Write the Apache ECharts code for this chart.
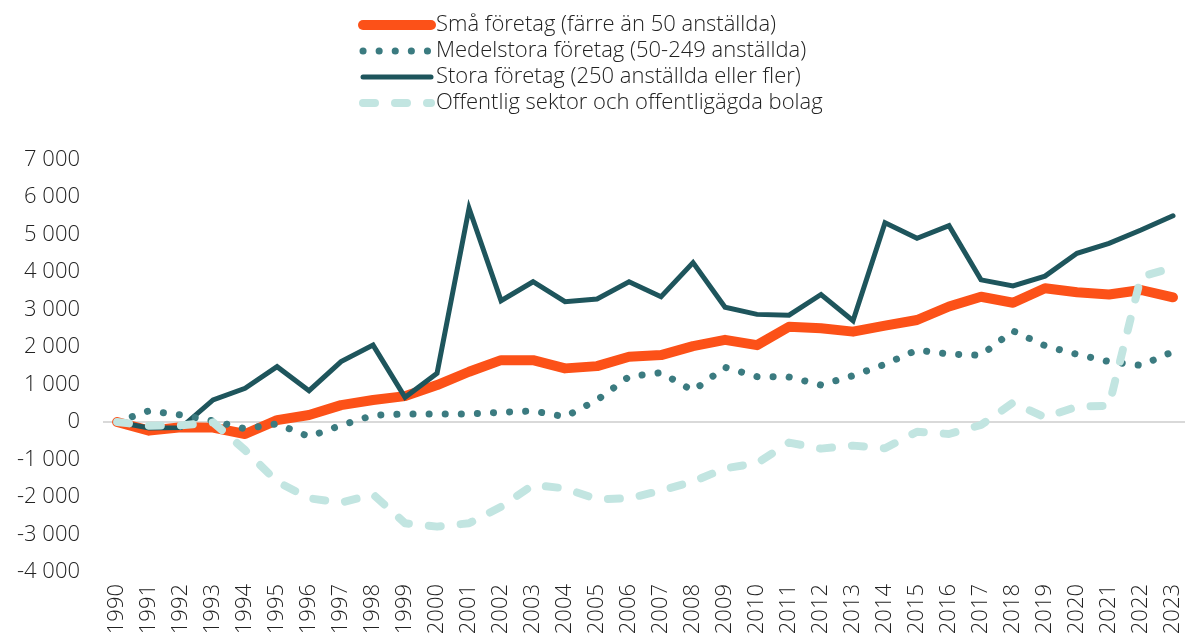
<!DOCTYPE html>
<html>
<head>
<meta charset="utf-8">
<script src="https://cdn.jsdelivr.net/npm/echarts@6/dist/echarts.min.js"></script>
<style>
html,body{margin:0;padding:0;background:#fff;}
#chart{width:1185px;height:639px;}
</style>
</head>
<body>
<div id="chart"></div>
<script>
const years = [1990,1991,1992,1993,1994,1995,1996,1997,1998,1999,2000,2001,2002,2003,2004,2005,2006,2007,2008,2009,2010,2011,2012,2013,2014,2015,2016,2017,2018,2019,2020,2021,2022,2023];
const smaForetag = [0,-230,-140,-150,-320,50,185,450,585,690,985,1340,1650,1650,1430,1490,1740,1785,2025,2190,2050,2540,2500,2410,2570,2720,3080,3340,3180,3565,3460,3400,3520,3325];
const medelstora = [0,300,185,30,-180,-50,-390,-90,180,215,215,215,260,295,140,585,1210,1315,835,1460,1210,1200,985,1235,1540,1920,1810,1780,2430,2035,1805,1610,1510,1875];
const stora = [0,-160,-150,590,900,1475,835,1610,2050,660,1300,5700,3235,3740,3210,3280,3740,3340,4250,3060,2870,2850,3400,2700,5315,4900,5235,3790,3630,3890,4500,4765,5120,5500];
const offentlig = [0,-100,-90,-10,-750,-1590,-2035,-2150,-1930,-2700,-2790,-2700,-2260,-1680,-1770,-2060,-2035,-1830,-1590,-1235,-1100,-550,-710,-630,-700,-260,-320,-80,515,125,410,435,3875,4115];
const seriesNames = ['Små företag (färre än 50 anställda)','Medelstora företag (50-249 anställda)','Stora företag (250 anställda eller fler)','Offentlig sektor och offentligägda bolag'];
const yTicks = {min:-4000, max:7000, interval:1000};

const pairs = vals => years.map((y,i)=>[y, vals[i]]);
const FONT = '"Open Sans", Lato, sans-serif';
const FW = 300;
const FS = 22;
const TXT = '#222222';
const C = {sma:'#FC5118', medel:'#3B7B80', stora:'#1E555C', off:'#C2E5E1'};
const noSym = {color:'rgba(0,0,0,0)', borderWidth:0, borderColor:'rgba(0,0,0,0)'};

const chart = echarts.init(document.getElementById('chart'), null, {renderer:'canvas'});
chart.setOption({
  animation:false,
  backgroundColor:'#ffffff',
  textStyle:{fontFamily:FONT, fontWeight:FW},
  legend:{
    orient:'vertical', left:353, top:9, itemWidth:68, itemHeight:20, itemGap:4,
    data:[
      {name:seriesNames[0], itemStyle:noSym, lineStyle:{width:10, type:'solid', cap:'round', color:C.sma}},
      {name:seriesNames[1], itemStyle:noSym, lineStyle:{width:7, type:[0.1,16], cap:'round', color:C.medel}},
      {name:seriesNames[2], itemStyle:noSym, lineStyle:{width:5, type:'solid', cap:'round', color:C.stora}},
      {name:seriesNames[3], itemStyle:noSym, lineStyle:{width:8, type:[12,20], cap:'round', color:C.off}}
    ],
    textStyle:{fontFamily:FONT, fontWeight:FW, fontSize:FS, color:TXT}
  },
  grid:{left:103, right:0, top:159.5, bottom:67, containLabel:false},
  xAxis:{
    type:'value', min:1989.56, max:2023.375,
    axisLine:{show:false}, splitLine:{show:false},
    axisTick:{show:false, customValues:years},
    axisLabel:{customValues:years, rotate:90, margin:12, fontSize:FS, color:TXT, fontFamily:FONT, fontWeight:FW,
      formatter:v=>String(v)}
  },
  yAxis:{
    type:'value', min:yTicks.min, max:yTicks.max, interval:yTicks.interval,
    axisLine:{show:false}, axisTick:{show:false}, splitLine:{show:false},
    axisLabel:{fontSize:FS, color:TXT, fontFamily:FONT, fontWeight:FW, margin:23,
      formatter:v=>{const s=Math.abs(v).toString().replace(/\B(?=(\d{3})+(?!\d))/g,' ');return (v<0?'-':'')+s;}}
  },
  series:[
    {name:seriesNames[0], type:'line', data:pairs(smaForetag), symbol:'none', z:2,
     lineStyle:{color:C.sma, width:10, cap:'round', join:'round'}, itemStyle:{color:C.sma},
     markLine:{silent:true, symbol:'none', label:{show:false}, z:1,
       lineStyle:{color:'#d9d9d9', width:2, type:'solid'}, data:[{yAxis:0}]}},
    {name:seriesNames[2], type:'line', data:pairs(stora), symbol:'none', z:3,
     lineStyle:{color:C.stora, width:5, cap:'round', join:'miter'}, itemStyle:{color:C.stora}},
    {name:seriesNames[1], type:'line', data:pairs(medelstora), symbol:'none', z:4,
     lineStyle:{color:C.medel, width:7, type:[0.1,16], cap:'round', join:'round'}, itemStyle:{color:C.medel}},
    {name:seriesNames[3], type:'line', data:pairs(offentlig), symbol:'none', z:5,
     lineStyle:{color:C.off, width:8, type:[12,20], cap:'round', join:'round'}, itemStyle:{color:C.off}}
  ]
});
</script>
</body>
</html>
